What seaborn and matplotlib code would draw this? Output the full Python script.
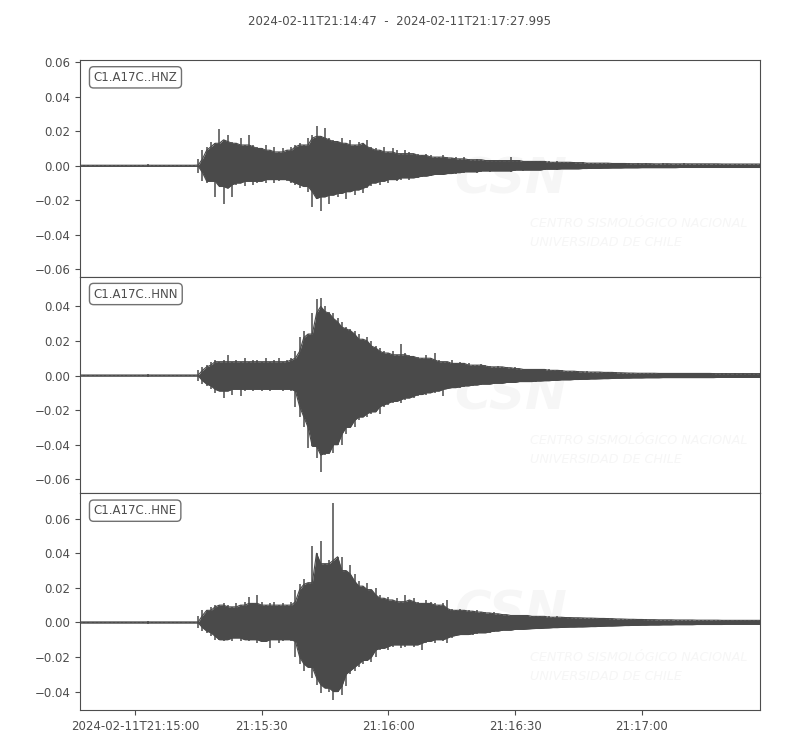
import numpy as np
import pandas as pd
import matplotlib
matplotlib.use("Agg")
import matplotlib.pyplot as plt
import matplotlib.dates as mdates
from matplotlib.ticker import FixedLocator, FixedFormatter
import seaborn as sns

# recording window
START = "2024-02-11 21:14:47"
END = "2024-02-11 21:17:27.995"
TITLE = "2024-02-11T21:14:47  -  2024-02-11T21:17:27.995"

CHANNELS = ["C1.A17C..HNZ", "C1.A17C..HNN", "C1.A17C..HNE"]

# per-second max / min (as magnitude) of each trace, in units of 1e-3
HNZ_UP = [0.3, 0.3, 0.4, 0.3, 0.3, 0.3, 0.4, 0.3, 0.3, 0.3,
          0.3, 0.4, 0.3, 0.3, 0.3, 0.3, 0.9, 0.4, 0.3, 0.3,
          0.3, 0.3, 0.4, 0.3, 0.3, 0.3, 0.3, 0.4,
          4, 9, 11, 14, 13, 21, 15, 18, 14, 13, 16, 12,
          18, 12, 11, 10, 12, 9, 11, 8, 10, 9,
          11, 12, 13, 12, 16, 18, 23, 17, 22, 16,
          15, 14, 16, 13, 15, 12, 14, 13, 15, 11,
          10, 9, 11, 8, 10, 9, 7, 9, 8, 7,
          7, 6, 7, 6, 5, 5, 6, 5, 4.5, 5,
          4, 5, 4, 3.5, 4, 3.5, 3.5, 3, 3.5, 3,
          3.5, 3, 5, 3, 3.5, 3, 2.5, 3, 2.5, 2.5,
          2.5, 2.5, 2, 2.5, 2, 2, 2, 2, 1.8, 2,
          1.8, 1.5, 1.8, 1.5, 1.5, 1.5, 1.5, 1.3, 1.5, 1.3,
          1.3, 1.2, 1.3, 1.2, 1.4, 1.2, 1.2, 1.1, 1.3, 1.2,
          1.2, 1.1, 1.2, 1.3, 1.1, 1.2, 1.1, 1.2, 1.1, 1.2,
          1.1, 1.2, 1.1, 1.0, 1.2, 1.1, 1.0, 1.1, 1.0, 1.1, 1.0, 1.1]
HNZ_LO = [0.3, 0.3, 0.3, 0.4, 0.3, 0.3, 0.3, 0.3, 0.4, 0.3,
          0.3, 0.3, 0.3, 0.4, 0.3, 0.3, 0.7, 0.3, 0.3, 0.3,
          0.3, 0.4, 0.3, 0.3, 0.3, 0.3, 0.4, 0.3,
          4, 9, 10, 9, 18, 12, 22, 13, 18, 11, 10, 12,
          9, 11, 10, 9, 10, 8, 10, 9, 8, 9,
          10, 11, 13, 12, 15, 24, 19, 26, 18, 22,
          17, 18, 16, 19, 15, 17, 14, 16, 13, 12,
          10, 11, 9, 10, 8, 9, 8, 7, 8, 7,
          7, 6.5, 6, 6, 5.5, 5, 5.5, 5, 4.5, 4.5,
          4, 4, 3.5, 3.5, 4, 3.5, 3, 3.5, 3, 3,
          3, 3, 3.5, 3, 2.5, 3, 2.5, 2.5, 2.5, 2.5,
          2.5, 2, 2, 2.2, 2, 1.8, 2, 1.8, 1.8, 1.8,
          1.6, 1.6, 1.5, 1.5, 1.5, 1.4, 1.4, 1.3, 1.4, 1.3,
          1.2, 1.3, 1.2, 1.2, 1.1, 1.2, 1.1, 1.2, 1.1, 1.1,
          1.1, 1.2, 1.1, 1.0, 1.1, 1.1, 1.0, 1.1, 1.0, 1.1,
          1.0, 1.1, 1.0, 1.0, 1.1, 1.0, 1.0, 1.0, 1.1, 1.0, 1.0, 1.0]

HNN_UP = [0.3, 0.3, 0.3, 0.3, 0.4, 0.3, 0.3, 0.3, 0.3, 0.3,
          0.4, 0.3, 0.3, 0.3, 0.3, 0.3, 0.8, 0.3, 0.3, 0.3,
          0.3, 0.3, 0.3, 0.4, 0.3, 0.3, 0.3, 0.3,
          3, 5, 6, 8, 9, 8, 9, 12, 8, 9, 8, 10,
          8, 9, 9, 8, 10, 8, 9, 10, 8, 9,
          10, 14, 22, 26, 24, 36, 44, 45, 40, 37,
          36, 33, 31, 28, 27, 26, 24, 21, 22, 20,
          17, 16, 14, 13, 14, 12, 18, 13, 12, 11,
          11, 10, 12, 10, 13, 9, 8, 8, 9, 7,
          8, 7, 7, 6, 6, 6.5, 6, 5.5, 5, 5.5,
          5, 5, 4.5, 5, 4, 4, 3.5, 4, 3.5, 3.5,
          3.5, 4, 3, 3, 3, 2.8, 2.5, 2.5, 2.5, 2.2,
          2.5, 2, 2, 2, 2, 1.8, 1.8, 1.8, 1.6, 1.6,
          1.5, 1.4, 1.5, 1.3, 1.4, 1.3, 1.4, 1.3, 1.2, 1.3,
          1.3, 1.2, 1.3, 1.2, 1.3, 1.2, 1.2, 1.3, 1.2, 1.2,
          1.2, 1.1, 1.2, 1.2, 1.1, 1.2, 1.1, 1.2, 1.1, 1.2, 1.1, 1.2]
HNN_LO = [0.3, 0.3, 0.4, 0.3, 0.3, 0.3, 0.3, 0.4, 0.3, 0.3,
          0.3, 0.3, 0.4, 0.3, 0.3, 0.3, 0.6, 0.3, 0.3, 0.4,
          0.3, 0.3, 0.3, 0.3, 0.3, 0.4, 0.3, 0.3,
          3, 5, 6, 8, 10, 9, 13, 9, 11, 8, 12, 9,
          8, 9, 8, 9, 8, 9, 8, 8, 9, 8,
          9, 18, 24, 30, 42, 41, 48, 56, 46, 45,
          45, 40, 40, 34, 30, 30, 26, 24, 24, 22,
          21, 22, 18, 17, 16, 15, 16, 14, 13, 13,
          12, 11, 11, 10, 10, 9, 12, 8, 7.5, 7,
          7, 6.5, 6, 6, 5.5, 5.5, 5, 5, 5, 4.5,
          4.5, 4.5, 4, 4, 4, 3.5, 3.5, 3.5, 3.5, 3.2,
          3.2, 3, 3, 2.8, 2.8, 2.5, 2.5, 2.5, 2.3, 2.3,
          2.2, 2.2, 2, 2, 1.9, 1.8, 1.8, 1.7, 1.6, 1.6,
          1.5, 1.5, 1.4, 1.4, 1.4, 1.3, 1.3, 1.3, 1.3, 1.2,
          1.3, 1.2, 1.3, 1.2, 1.2, 1.2, 1.3, 1.2, 1.2, 1.2,
          1.2, 1.2, 1.1, 1.2, 1.2, 1.1, 1.2, 1.1, 1.2, 1.1, 1.1, 1.1]

HNE_UP = [0.3, 0.4, 0.3, 0.3, 0.3, 0.3, 0.3, 0.4, 0.3, 0.3,
          0.3, 0.3, 0.3, 0.3, 0.4, 0.3, 0.8, 0.3, 0.3, 0.3,
          0.4, 0.3, 0.3, 0.3, 0.3, 0.3, 0.4, 0.3,
          4, 7, 7, 9, 10, 10, 11, 10, 9, 11, 10, 12,
          15, 11, 16, 12, 10, 11, 12, 10, 11, 10,
          12, 19, 22, 25, 23, 44, 40, 47, 34, 36,
          69, 38, 38, 30, 33, 28, 24, 21, 23, 19,
          20, 16, 14, 15, 13, 14, 12, 16, 13, 14,
          12, 11, 13, 12, 11, 10, 11, 13, 8, 7,
          7.5, 7, 7, 6.5, 7, 6, 6, 5.5, 6, 5,
          5, 4.5, 4.5, 4, 4.5, 4, 4, 4, 3.5, 3.5,
          3.5, 3.5, 3, 3.5, 3, 3, 2.8, 2.8, 2.7, 2.7,
          2.6, 2.5, 2.6, 2.4, 2.3, 2.3, 2.2, 2.2, 2.0, 2.0,
          1.9, 1.8, 1.8, 1.7, 1.7, 1.6, 1.6, 1.6, 1.5, 1.5,
          1.5, 1.5, 1.4, 1.5, 1.4, 1.4, 1.4, 1.3, 1.4, 1.3,
          1.3, 1.3, 1.3, 1.2, 1.3, 1.2, 1.3, 1.2, 1.2, 1.2, 1.2, 1.2]
HNE_LO = [0.3, 0.3, 0.3, 0.4, 0.3, 0.3, 0.3, 0.3, 0.3, 0.4,
          0.3, 0.3, 0.3, 0.3, 0.3, 0.3, 0.7, 0.3, 0.4, 0.3,
          0.3, 0.3, 0.3, 0.3, 0.4, 0.3, 0.3, 0.3,
          3, 5, 6, 8, 10, 10, 11, 10, 11, 9, 11, 10,
          11, 10, 12, 11, 11, 15, 10, 12, 11, 10,
          11, 20, 24, 28, 26, 32, 36, 41, 38, 40,
          45, 40, 42, 37, 30, 28, 26, 24, 22, 23,
          20, 16, 15, 16, 14, 13, 15, 14, 13, 14,
          13, 16, 12, 11, 12, 10, 11, 12, 9, 8,
          7.5, 7, 7, 7, 6.5, 6, 6, 6, 5.5, 5,
          5, 4.5, 4.5, 4.5, 4, 4, 4, 3.8, 3.6, 3.5,
          3.5, 3.3, 3.2, 3, 3, 2.9, 2.8, 2.7, 2.7, 2.6,
          2.6, 2.5, 2.4, 2.4, 2.3, 2.2, 2.1, 2.1, 2.0, 1.9,
          1.8, 1.8, 1.7, 1.7, 1.6, 1.6, 1.5, 1.5, 1.5, 1.4,
          1.4, 1.4, 1.3, 1.4, 1.3, 1.3, 1.3, 1.2, 1.3, 1.2,
          1.2, 1.2, 1.2, 1.2, 1.1, 1.2, 1.1, 1.2, 1.1, 1.1, 1.1, 1.1]

TICK_TIMES = ["2024-02-11 21:15:00", "2024-02-11 21:15:30", "2024-02-11 21:16:00",
              "2024-02-11 21:16:30", "2024-02-11 21:17:00"]
TICK_LABELS = ["2024-02-11T21:15:00", "21:15:30", "21:16:00", "21:16:30", "21:17:00"]

LINE = "#4a4a4a"
TXT = "#4d4d4d"
WM = "#f6f6f6"


def trace_frame(up, lo):
    # one max and one min per second, like obspy's min/max envelope plotting
    t = np.arange(len(up))
    df = pd.DataFrame({"time": pd.Timestamp(START) + pd.to_timedelta(t, unit="s"),
                       "up": np.array(up) * 1e-3,
                       "lo": -np.array(lo) * 1e-3})
    # dense core of the waveform: the spikes stick out of it
    df["core_up"] = df["up"].rolling(3, center=True, min_periods=1).min()
    df["core_lo"] = df["lo"].rolling(3, center=True, min_periods=1).max()
    return df


sns.set_style("ticks")
plt.rcParams["font.family"] = ["DejaVu Sans"]
plt.rcParams["font.size"] = 8

frames = [trace_frame(HNZ_UP, HNZ_LO), trace_frame(HNN_UP, HNN_LO), trace_frame(HNE_UP, HNE_LO)]
# equal scale for all traces, 5% margin
span = max(d["up"].max() - d["lo"].min() for d in frames) * 1.1

fig, axes = plt.subplots(3, 1, figsize=(8, 7.5), dpi=100, sharex=True)
fig.subplots_adjust(left=0.1, right=0.95, top=0.92, bottom=0.0533, hspace=0)

for ax, df, name in zip(axes, frames, CHANNELS):
    # faint watermark
    ax.text(0.55, 0.45, "CSN", transform=ax.transAxes, fontsize=36, fontweight="bold",
            fontstyle="italic", color=WM, va="center", ha="left", zorder=0)
    ax.text(0.662, 0.244, "CENTRO SISMOLÓGICO NACIONAL", transform=ax.transAxes, fontsize=9.2,
            fontstyle="italic", color=WM, va="center", ha="left", zorder=0)
    ax.text(0.662, 0.157, "UNIVERSIDAD DE CHILE", transform=ax.transAxes, fontsize=9.2,
            fontstyle="italic", color=WM, va="center", ha="left", zorder=0)

    x = mdates.date2num(df["time"])
    sns.lineplot(data=df, x="time", y="core_up", ax=ax, color=LINE, linewidth=0.8,
                 estimator=None, zorder=2)
    sns.lineplot(data=df, x="time", y="core_lo", ax=ax, color=LINE, linewidth=0.8,
                 estimator=None, zorder=2)
    ax.fill_between(x, df["core_lo"], df["core_up"], color=LINE, linewidth=0, zorder=2)
    ax.vlines(x, df["lo"], df["up"], color=LINE, linewidth=1.1, zorder=2)

    mid = (df["up"].max() + df["lo"].min()) / 2
    ax.set_ylim(mid - span / 2, mid + span / 2)
    ax.set_xlim(pd.Timestamp(START), pd.Timestamp(END))
    ax.set_xlabel("")
    ax.set_ylabel("")
    ax.text(0.02, 0.95, name, transform=ax.transAxes, va="top", ha="left", fontsize=8.5,
            color=TXT, zorder=5,
            bbox=dict(boxstyle="round,pad=0.35", fc="w", ec=TXT, alpha=0.8))
    for s in ax.spines.values():
        s.set_color(TXT)
    ax.tick_params(colors=TXT, labelsize=8.5)

for ax in axes[:-1]:
    ax.tick_params(axis="x", bottom=False, labelbottom=False)

axes[-1].xaxis.set_major_locator(FixedLocator(mdates.date2num(pd.to_datetime(TICK_TIMES))))
axes[-1].xaxis.set_major_formatter(FixedFormatter(TICK_LABELS))

fig.suptitle(TITLE, y=0.98, fontsize=8.5, color=TXT)
fig.savefig("out.png", dpi=100)
